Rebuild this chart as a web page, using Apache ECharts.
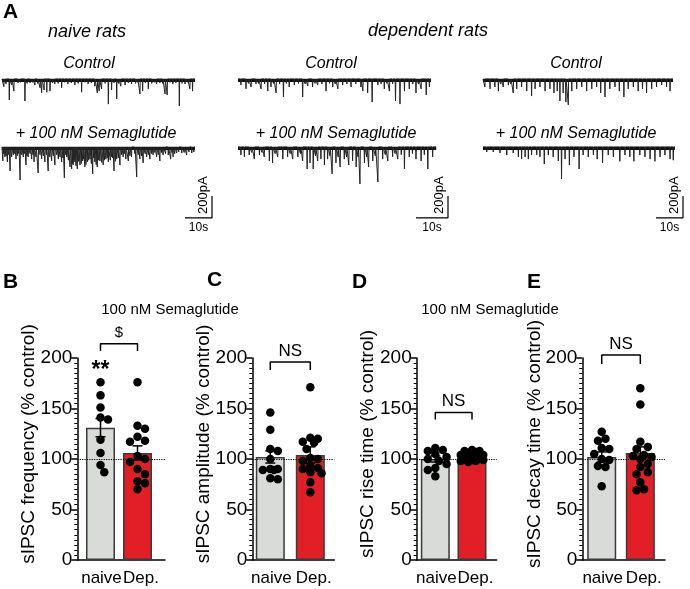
<!DOCTYPE html>
<html><head><meta charset="utf-8">
<script src="https://cdn.jsdelivr.net/npm/echarts@6/dist/echarts.min.js"></script>
<style>html,body{margin:0;padding:0;background:#fff}#c{width:690px;height:589px}</style>
</head><body><div id="c"></div>
<script>
// ================= DATA =================
// Panel A: sIPSC events, [time (s), amplitude (pA)]
const naiveCtrlEvents = [[0.7,70],[1.5,45],[2.7,190],[3.6,55],[4.4,110],[5.9,35],[6.8,30],[8.5,200],[9.3,40],[10.4,35],[11.3,30],[12.2,55],[13.2,40],[14.1,80],[14.7,125],[15.6,100],[16.6,120],[17.8,110],[18.7,35],[19.6,45],[20.8,40],[22.1,80],[23.2,30],[24.4,45],[25.7,35],[27.0,55],[28.2,40],[29.5,120],[30.7,30],[31.9,45],[33.1,35],[34.4,65],[35.3,125],[36.0,110],[36.9,90],[38.2,40],[39.4,228],[40.6,100],[41.5,35],[42.5,182],[43.2,40],[44.0,65],[45.6,55],[46.8,35],[48.0,45],[49.5,40],[50.2,30],[51.1,136],[52.1,110],[53.1,35],[54.2,90],[55.5,40],[56.4,30],[57.3,45],[58.5,35],[59.5,40],[60.4,136],[61.2,145],[62.3,30],[63.3,45],[64.4,35],[65.7,245],[66.7,40],[67.8,45],[68.7,30],[69.6,90],[70.6,110]];
const naiveSemaEvents = [[0.3,127],[0.6,60],[1.1,90],[1.5,80],[2.0,136],[2.5,70],[3.0,218],[3.6,90],[4.2,73],[4.7,60],[5.2,110],[5.7,80],[6.2,60],[6.7,300],[7.3,70],[7.9,90],[8.4,60],[8.9,164],[9.3,80],[9.7,90],[10.4,60],[11.0,110],[11.5,70],[11.9,136],[12.6,90],[13.4,236],[14.1,70],[14.7,110],[15.3,80],[15.9,136],[16.5,70],[17.1,218],[17.7,90],[18.4,127],[19.0,80],[19.6,164],[20.3,70],[20.9,110],[21.5,90],[22.1,136],[22.6,100],[23.1,280],[23.6,70],[24.0,90],[24.6,120],[25.2,182],[25.8,200],[26.1,150],[26.4,164],[26.7,120],[27.0,136],[27.4,170],[27.9,200],[28.4,130],[28.9,164],[29.4,150],[29.9,127],[30.2,110],[30.7,182],[31.1,160],[31.6,136],[32.1,120],[32.6,110],[33.1,150],[33.6,245],[34.0,100],[34.4,136],[34.9,160],[35.3,182],[35.8,120],[36.3,127],[36.9,140],[37.5,164],[38.0,120],[38.5,110],[39.0,100],[39.4,136],[40.1,120],[40.6,90],[41.0,100],[41.5,218],[42.0,130],[42.5,110],[43.1,100],[43.7,164],[44.3,70],[44.9,90],[45.4,60],[45.9,110],[46.8,127],[47.4,80],[48.0,90],[49.2,60],[49.9,273],[50.5,70],[51.1,110],[51.7,80],[52.3,145],[53.0,60],[53.6,90],[54.2,70],[54.8,110],[55.4,60],[56.0,73],[56.6,50],[57.3,90],[57.9,70],[58.5,127],[59.1,50],[59.7,73],[60.6,60],[61.6,73],[62.5,110],[63.0,50],[63.4,90],[64.0,60],[64.7,55],[65.5,45],[66.6,55],[67.5,50],[68.4,73],[69.3,45],[70.3,55],[71.1,45]];
const depCtrlEvents = [[0.9,55],[2.5,90],[3.3,40],[4.1,73],[5.6,45],[6.4,40],[7.2,90],[8.3,45],[9.3,110],[10.3,73],[11.1,40],[11.9,127],[13.0,45],[14.2,164],[15.1,40],[16.0,73],[17.6,55],[18.9,40],[20.2,164],[21.0,45],[21.8,64],[23.3,73],[24.1,40],[24.9,55],[26.2,45],[27.5,110],[28.6,40],[29.6,73],[30.4,45],[31.2,90],[32.7,55],[34.0,45],[35.3,73],[36.8,45],[38.4,73],[39.0,110],[40.5,127],[41.9,210],[43.7,55],[44.7,45],[45.7,90],[46.5,40],[47.3,110],[48.3,45],[49.2,200],[50.6,228],[52.0,110],[53.5,90],[54.6,45],[55.6,127],[56.4,45],[57.2,90],[58.8,145],[59.8,73]];
const depSemaEvents = [[0.9,73],[2.0,90],[3.5,73],[4.3,50],[5.1,110],[6.7,73],[7.5,50],[8.2,90],[9.8,127],[10.8,145],[11.6,60],[12.4,90],[14.0,110],[15.5,90],[16.3,60],[17.1,110],[18.7,90],[19.5,60],[20.2,127],[21.6,200],[22.5,145],[23.5,200],[24.2,80],[24.9,127],[25.9,110],[27.0,164],[28.0,110],[28.7,80],[29.4,245],[30.6,145],[31.3,90],[31.9,182],[33.2,110],[33.9,90],[34.6,164],[35.8,127],[36.9,182],[37.5,90],[38.1,336],[39.5,145],[40.2,90],[40.8,182],[42.1,127],[42.9,80],[43.7,318],[45.2,110],[46.0,70],[46.8,127],[48.3,90],[49.1,60],[49.9,110],[51.0,70],[52.0,200],[53.5,90],[54.5,60],[55.6,110],[57.2,127],[58.2,70],[59.3,200],[60.8,90]];
const depCtrl2Events = [[0.7,73],[2.6,90],[4.4,73],[5.7,110],[6.6,45],[7.5,73],[9.4,55],[10.3,45],[11.2,127],[12.5,90],[14.3,73],[16.2,110],[18.0,155],[19.3,90],[21.1,73],[23.0,110],[24.8,90],[26.3,127],[27.5,110],[28.5,200],[29.7,127],[30.7,210],[31.6,236],[32.9,110],[34.7,90],[36.6,73],[38.4,110],[40.3,90],[42.1,73],[43.6,127],[45.2,164],[47.0,90],[48.9,73],[50.5,110],[52.2,164],[53.8,90],[55.7,73],[57.5,110],[59.1,90],[60.6,127],[62.5,90],[64.3,73],[66.2,55],[68.0,73],[69.3,110]];
const depSema2Events = [[1.4,45],[3.8,45],[6.3,55],[8.8,73],[11.2,55],[13.1,90],[14.3,110],[15.6,90],[16.8,110],[18.0,73],[19.9,73],[21.1,90],[22.7,155],[24.2,73],[26.0,90],[27.9,127],[29.1,290],[30.4,110],[32.0,164],[33.7,90],[35.6,200],[37.1,73],[39.0,90],[40.9,73],[42.3,110],[44.3,145],[46.4,73],[48.3,90],[50.7,130],[52.6,73],[54.4,90],[55.9,130],[58.1,73],[60.0,90],[61.9,110],[63.7,130],[65.6,90],[67.4,73],[69.3,110],[70.5,120]];
const ctrlDurations = [71.5, 60.3, 70.4];   // s, trace length per column
const semaDurations = [71.5, 61.9, 71.1];
const scaleBarTime = 10;   // s
const scaleBarAmp = 200;   // pA

// Panels B-E: % of control
const groups = ['naive', 'Dep.'];
const freqMean = [131, 106], freqSem = [9, 7];
const freqNaive = [176, 163, 151, 141, 139, 119, 106, 94, 87];
const freqDep = [176, 133, 130, 122, 118, 117, 103, 100, 97, 90, 85, 78, 76, 70];
const ampMean = [102, 104], ampSem = [6, 8];
const ampNaive = [146, 129, 110, 108, 100, 90, 90, 89, 89, 81, 80];
const ampDep = [171, 121, 120, 117, 116, 110, 101, 100, 98, 93, 91, 90, 87, 86, 77, 67];
const riseMean = [100, 101.5], riseSem = [3, 1.5];
const riseNaive = [111, 109, 108, 105, 102, 100, 98, 95, 91, 89, 83];
const riseDep = [109, 108, 108, 107, 105, 104, 104, 103, 100, 100, 99, 99, 98, 98, 97];
const decayMean = [102, 106], decaySem = [5, 6];
const decayNaive = [127, 120, 118, 111, 110, 105, 100, 99, 93, 92, 73];
const decayDep = [170, 154, 117, 112, 110, 104, 103, 102, 100, 95, 92, 87, 85, 77, 70, 69];
const yTicks = [0, 50, 100, 150, 200];

// ================= LAYOUT =================
const FONT = '"Liberation Sans", Arial, Helvetica, sans-serif';
const chart = echarts.init(document.getElementById('c'), null, {renderer: 'canvas', width: 690, height: 589});

const traceCols = [
  {left: 2, width: 210, xMax: 77.8, ctrl: naiveCtrlEvents, sema: naiveSemaEvents},
  {left: 238, width: 210, xMax: 65.6, ctrl: depCtrlEvents, sema: depSemaEvents},
  {left: 483, width: 200, xMax: 74.1, ctrl: depCtrl2Events, sema: depSema2Events},
];
const barPanels = [
  {left: 77.3, width: 87.7, xMin: -0.627, xMax: 1.743, mean: freqMean, sem: freqSem, pts: [freqNaive, freqDep],
   title: 'sIPSC frequency (% control)', titleX: 29, br: {y: 214, leg: 207, text: '$', ty: 225, size: 15}, stars: {y: 187, text: '**'}},
  {left: 252.3, width: 82, xMin: -0.45, xMax: 1.6, mean: ampMean, sem: ampSem, pts: [ampNaive, ampDep],
   title: 'sIPSC amplitude (% control)', titleX: 203.5, br: {y: 196, leg: 188, text: 'NS', ty: 207, size: 17}},
  {left: 416.7, width: 80, xMin: -0.507, xMax: 1.673, mean: riseMean, sem: riseSem, pts: [riseNaive, riseDep],
   title: 'sIPSC rise time (% control)', titleX: 367.5, br: {y: 146, leg: 139, text: 'NS', ty: 157, size: 17}},
  {left: 582.3, width: 82.7, xMin: -0.503, xMax: 1.639, mean: decayMean, sem: decaySem, pts: [decayNaive, decayDep],
   title: 'sIPSC decay time (% control)', titleX: 535, br: {y: 203, leg: 194, text: 'NS', ty: 214, size: 17}},
];
const BAR_TOP = 358, BAR_H = 202;
const barColors = ['#d9dbd9', '#e21e26'];
const groupLabelShift = [1, 3.5];

const grids = [], xAxes = [], yAxes = [], series = [];
const scaleBarRefs = [];

function traceLine(events, dur) {
  const pts = [[0, 0]];
  events.forEach(([t, a]) => { pts.push([t - 0.12, 0], [t, -a], [t + 0.12, 0]); });
  pts.push([dur, 0]);
  return pts;
}

traceCols.forEach((col, ci) => {
  [['ctrl', 68, 44, -300, ctrlDurations[ci]], ['sema', 136, 88, -700, semaDurations[ci]]].forEach(([k, top, h, yMin, dur]) => {
    const gi = grids.length;
    grids.push({left: col.left, top: top, width: col.width, height: h, containLabel: false, outerBoundsMode: 'none'});
    xAxes.push({gridIndex: gi, type: 'value', min: 0, max: col.xMax, show: false});
    yAxes.push({gridIndex: gi, type: 'value', min: yMin, max: 100, show: false});
    series.push({type: 'line', xAxisIndex: gi, yAxisIndex: gi, data: [[0, -12], [dur, -12]], symbol: 'none', silent: true,
      lineStyle: {color: '#111', width: 3.2}, z: 2});
    series.push({type: 'line', xAxisIndex: gi, yAxisIndex: gi, data: traceLine(col[k], dur), symbol: 'none', silent: true,
      sampling: null, lineStyle: {color: '#222', width: 1}, z: 3});
    if (k === 'sema') {
      const x1 = col.xMax, x0 = col.xMax - scaleBarTime, yb = -645, yt = yb + scaleBarAmp;
      series.push({type: 'line', xAxisIndex: gi, yAxisIndex: gi, data: [[x0, yb], [x1, yb], [x1, yt]], symbol: 'none', silent: true,
        clip: false, lineStyle: {color: '#000', width: 1.2}, z: 3});
      scaleBarRefs.push({gi, x0, x1, yb, yt});
    }
  });
});

// deterministic beeswarm: dots of equal value are set side by side, kept inside the bar
function swarm(values, center, pxX, pxY, d, maxOff) {
  const placed = [], out = [];
  const order = values.map((v, i) => i).sort((a, b) => values[b] - values[a]);
  order.forEach(i => {
    const v = values[i], yp = v * pxY;
    let best = 0, bestDist = -1;
    for (let k = 0; k < 40; k++) {
      const off = (k % 2 === 1 ? 1 : -1) * Math.ceil(k / 2) * d * 0.5;
      if (Math.abs(off) > maxOff) break;
      const md = placed.reduce((m, p) => Math.min(m, Math.hypot(p[0] - off, p[1] - yp)), Infinity);
      if (md >= d) { best = off; bestDist = md; break; }
      if (md > bestDist) { bestDist = md; best = off; }
    }
    placed.push([best, yp]); out.push([center + best / pxX, v]);
  });
  return out;
}

const barGridIdx = [];
barPanels.forEach((p, pi) => {
  const gi = grids.length; barGridIdx.push(gi);
  grids.push({left: p.left, top: BAR_TOP, width: p.width, height: BAR_H, containLabel: false, outerBoundsMode: 'none'});
  xAxes.push({gridIndex: gi, type: 'value', min: p.xMin, max: p.xMax,
    axisLine: {show: true, onZero: false, lineStyle: {color: '#000', width: 1.5}},
    axisTick: {show: false}, splitLine: {show: false}, axisLabel: {show: false}});
  yAxes.push({gridIndex: gi, type: 'value', min: yTicks[0], max: yTicks[yTicks.length - 1], interval: yTicks[1] - yTicks[0],
    axisLine: {show: true, onZero: false, lineStyle: {color: '#000', width: 1.5}},
    axisTick: {show: true, length: 6, lineStyle: {color: '#000', width: 1.5}},
    minorTick: {show: true, splitNumber: 10, length: 3, lineStyle: {color: '#000', width: 1}},
    axisLabel: {fontSize: 19, color: '#000', fontFamily: FONT, margin: 5},
    splitLine: {show: false}, minorSplitLine: {show: false}});
  series.push({type: 'bar', xAxisIndex: gi, yAxisIndex: gi, barWidth: 29, silent: true,
    data: p.mean.map((m, i) => ({value: [i, m], itemStyle: {color: barColors[i], borderColor: '#3a3a3a', borderWidth: 1.5}})),
    markLine: {silent: true, symbol: 'none', label: {show: false},
      lineStyle: {color: '#000', type: 'dotted', width: 1.2}, data: [{yAxis: 100}]}, z: 2});
  const pxX = p.width / (p.xMax - p.xMin), pxY = BAR_H / 200;
  const pts = swarm(p.pts[0], 0, pxX, pxY, 7.5, 13).concat(swarm(p.pts[1], 1, pxX, pxY, 7.5, 13));
  series.push({type: 'scatter', xAxisIndex: gi, yAxisIndex: gi, data: pts, symbol: 'circle', symbolSize: 8.5,
    itemStyle: {color: '#000', opacity: 1}, silent: true, clip: false, z: 4});
  series.push({type: 'custom', xAxisIndex: gi, yAxisIndex: gi, silent: true, z: 5,
    data: p.mean.map((m, i) => [i, m, p.sem[i]]),
    renderItem: (params, api) => {
      const x = api.value(0), m = api.value(1), s = api.value(2);
      const a = api.coord([x, m + s]), b = api.coord([x, m - s]), w = 5;
      const st = {stroke: '#000', lineWidth: 1.5};
      return {type: 'group', children: [
        {type: 'line', shape: {x1: a[0], y1: a[1], x2: b[0], y2: b[1]}, style: st},
        {type: 'line', shape: {x1: a[0] - w, y1: a[1], x2: a[0] + w, y2: a[1]}, style: st},
        {type: 'line', shape: {x1: b[0] - w, y1: b[1], x2: b[0] + w, y2: b[1]}, style: st}]};
    }});
  series.push({type: 'line', xAxisIndex: gi, yAxisIndex: gi, data: [[0, p.br.leg], [0, p.br.y], [1, p.br.y], [1, p.br.leg]],
    symbol: 'none', silent: true, clip: false, lineStyle: {color: '#000', width: 1.5}, z: 5});
});

chart.setOption({animation: false, grid: grids, xAxis: xAxes, yAxis: yAxes, series: series});

// ================= TEXT =================
function txt(text, x, y, o) {
  o = o || {};
  const al = o.align || 'center', va = o.va || 'middle';
  return {type: 'text', x: x, y: y, rotation: o.rot || 0, silent: true, z: 100,
    style: {text: text, x: 0, y: 0, fill: '#000', fontSize: o.size || 16, fontFamily: FONT,
      fontWeight: o.weight || 'normal', fontStyle: o.style || 'normal',
      align: al, verticalAlign: va, textAlign: al, textVerticalAlign: va}};
}
const g = [];
g.push(txt('A', 3, 2, {size: 21, weight: 'bold', align: 'left', va: 'top'}));
g.push(txt('naive rats', 87, 32, {size: 18, style: 'italic'}));
g.push(txt('dependent rats', 428, 31, {size: 18, style: 'italic'}));
[89, 331, 576].forEach(x => g.push(txt('Control', x, 64, {size: 16, style: 'italic'})));
[96, 336, 576].forEach(x => g.push(txt('+ 100 nM Semaglutide', x, 134, {size: 16, style: 'italic'})));
scaleBarRefs.forEach(r => {
  const pb = chart.convertToPixel({gridIndex: r.gi}, [r.x1, r.yb]);
  const pm = chart.convertToPixel({gridIndex: r.gi}, [(r.x0 + r.x1) / 2, r.yb]);
  g.push(txt(scaleBarAmp + 'pA', pb[0] - 2, pb[1] - 4, {size: 13, rot: Math.PI / 2, align: 'left', va: 'bottom'}));
  g.push(txt(scaleBarTime + 's', pm[0], pm[1] + 4, {size: 12, va: 'top'}));
});
[['B', 3, 272], ['C', 207, 270], ['D', 352, 272], ['E', 527, 272]].forEach(([t, x, y]) =>
  g.push(txt(t, x, y, {size: 21, weight: 'bold', align: 'left', va: 'top'})));
g.push(txt('100 nM Semaglutide', 170, 310, {size: 15}));
g.push(txt('100 nM Semaglutide', 490, 310, {size: 15}));
barPanels.forEach((p, pi) => {
  const gi = barGridIdx[pi];
  g.push(txt(p.title, p.titleX, 444, {size: 19, rot: Math.PI / 2}));
  groups.forEach((name, i) => {
    const pc = chart.convertToPixel({gridIndex: gi}, [i, 0]);
    g.push(txt(name, pc[0] + groupLabelShift[i], pc[1] + 10, {size: 17, va: 'top'}));
  });
  const pt = chart.convertToPixel({gridIndex: gi}, [0.5, p.br.ty]);
  g.push(txt(p.br.text, pt[0], pt[1], {size: p.br.size}));
  if (p.stars) {
    const ps = chart.convertToPixel({gridIndex: gi}, [0, p.stars.y]);
    g.push(txt(p.stars.text, ps[0], ps[1], {size: 23, weight: 'bold'}));
  }
});
chart.setOption({graphic: {elements: g}});
</script></body></html>
